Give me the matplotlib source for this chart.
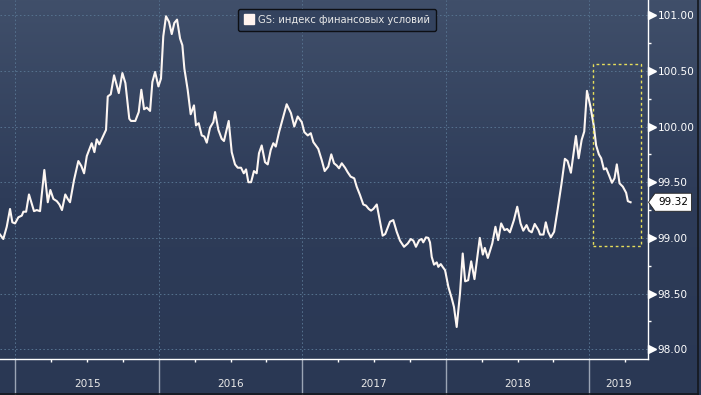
import numpy as np
import matplotlib
matplotlib.use('Agg')
import matplotlib.pyplot as plt
import matplotlib.transforms as mtransforms
from matplotlib.patches import Rectangle, Polygon
from matplotlib.lines import Line2D
from matplotlib.colors import LinearSegmentedColormap
from matplotlib.ticker import FixedLocator, NullFormatter

# ---------------- data (decimal years, index level) ----------------
dates_yr = [
    2014.893, 2014.916, 2014.940, 2014.963, 2014.979, 2014.998, 2015.021, 2015.045, 2015.056, 2015.075,
    2015.095, 2015.114, 2015.130, 2015.149, 2015.172, 2015.202, 2015.226, 2015.244, 2015.265, 2015.289,
    2015.307, 2015.325, 2015.348, 2015.365, 2015.381, 2015.409, 2015.439, 2015.460, 2015.479, 2015.498,
    2015.532, 2015.551, 2015.567, 2015.585, 2015.632, 2015.644, 2015.665, 2015.688, 2015.721, 2015.746,
    2015.767, 2015.794, 2015.806, 2015.836, 2015.860, 2015.878, 2015.897, 2015.916, 2015.939, 2015.955,
    2015.974, 2015.997, 2016.015, 2016.031, 2016.050, 2016.071, 2016.090, 2016.108, 2016.127, 2016.148,
    2016.164, 2016.178, 2016.201, 2016.222, 2016.245, 2016.259, 2016.278, 2016.299, 2016.317, 2016.334,
    2016.357, 2016.380, 2016.392, 2016.415, 2016.438, 2016.454, 2016.487, 2016.508, 2016.531, 2016.550,
    2016.573, 2016.592, 2016.608, 2016.624, 2016.643, 2016.663, 2016.682, 2016.698, 2016.717, 2016.740,
    2016.759, 2016.780, 2016.798, 2016.815, 2016.838, 2016.868, 2016.891, 2016.921, 2016.944, 2016.968,
    2016.996, 2017.014, 2017.038, 2017.059, 2017.077, 2017.111, 2017.135, 2017.156, 2017.181, 2017.202,
    2017.221, 2017.240, 2017.256, 2017.275, 2017.298, 2017.316, 2017.337, 2017.362, 2017.379, 2017.402,
    2017.425, 2017.444, 2017.463, 2017.479, 2017.495, 2017.519, 2017.542, 2017.560, 2017.578, 2017.611,
    2017.634, 2017.658, 2017.681, 2017.709, 2017.735, 2017.756, 2017.774, 2017.792, 2017.815, 2017.832,
    2017.843, 2017.862, 2017.878, 2017.890, 2017.902, 2017.918, 2017.937, 2017.948, 2017.965, 2017.978,
    2017.995, 2018.018, 2018.041, 2018.057, 2018.076, 2018.099, 2018.118, 2018.135, 2018.156, 2018.177,
    2018.200, 2018.237, 2018.258, 2018.272, 2018.293, 2018.324, 2018.346, 2018.365, 2018.386, 2018.409,
    2018.428, 2018.447, 2018.475, 2018.498, 2018.521, 2018.540, 2018.563, 2018.580, 2018.599, 2018.620,
    2018.646, 2018.657, 2018.681, 2018.697, 2018.713, 2018.732, 2018.755, 2018.779, 2018.807, 2018.830,
    2018.849, 2018.872, 2018.907, 2018.926, 2018.947, 2018.965, 2018.984, 2019.008, 2019.031, 2019.048,
    2019.067, 2019.083, 2019.102, 2019.118, 2019.137, 2019.158, 2019.176, 2019.192, 2019.211, 2019.234,
    2019.257, 2019.269, 2019.288,
]
values = [
    99.03, 98.99, 99.10, 99.26, 99.14, 99.13, 99.185, 99.20, 99.235, 99.235,
    99.39, 99.31, 99.24, 99.25, 99.24, 99.61, 99.32, 99.43, 99.35, 99.33,
    99.30, 99.25, 99.39, 99.35, 99.32, 99.52, 99.69, 99.645, 99.58, 99.735,
    99.85, 99.77, 99.885, 99.84, 99.97, 100.27, 100.29, 100.46, 100.30, 100.48,
    100.39, 100.07, 100.05, 100.05, 100.13, 100.33, 100.155, 100.17, 100.14, 100.40,
    100.49, 100.36, 100.43, 100.81, 100.99, 100.94, 100.83, 100.93, 100.96, 100.79,
    100.73, 100.52, 100.33, 100.11, 100.19, 100.01, 100.03, 99.92, 99.91, 99.855,
    99.99, 100.04, 100.13, 99.97, 99.89, 99.87, 100.05, 99.77, 99.66, 99.63,
    99.63, 99.58, 99.615, 99.50, 99.50, 99.60, 99.58, 99.76, 99.83, 99.68,
    99.66, 99.79, 99.85, 99.82, 99.95, 100.09, 100.20, 100.12, 100.00, 100.09,
    100.04, 99.95, 99.92, 99.94, 99.86, 99.80, 99.70, 99.60, 99.64, 99.75,
    99.67, 99.65, 99.625, 99.67, 99.63, 99.59, 99.55, 99.535, 99.46, 99.385,
    99.30, 99.29, 99.26, 99.245, 99.26, 99.30, 99.145, 99.02, 99.035, 99.145,
    99.16, 99.055, 98.975, 98.92, 98.95, 98.99, 98.975, 98.92, 98.98, 98.99,
    98.96, 99.005, 99.00, 98.96, 98.83, 98.76, 98.78, 98.74, 98.765, 98.74,
    98.71, 98.56, 98.46, 98.38, 98.20, 98.50, 98.86, 98.61, 98.62, 98.79,
    98.63, 99.00, 98.85, 98.91, 98.82, 98.95, 99.10, 98.98, 99.13, 99.07,
    99.08, 99.05, 99.16, 99.28, 99.13, 99.065, 99.115, 99.065, 99.05, 99.125,
    99.07, 99.03, 99.03, 99.14, 99.055, 99.005, 99.055, 99.25, 99.49, 99.71,
    99.69, 99.585, 99.915, 99.715, 99.88, 99.955, 100.32, 100.18, 100.01, 99.83,
    99.75, 99.715, 99.615, 99.625, 99.565, 99.495, 99.535, 99.66, 99.49, 99.46,
    99.405, 99.33, 99.32,
]
year_starts = [2015, 2016, 2017, 2018, 2019]
year_labels = ['2015', '2016', '2017', '2018', '2019']
y_ticks = [98.0, 98.5, 99.0, 99.5, 100.0, 100.5, 101.0]
legend_label = 'GS: индекс финансовых условий'
last_value = values[-1]
highlight_x = (2019.024, 2019.362)
highlight_y = (98.93, 100.56)
x_limits = (2014.893, 2019.406)
y_limits = (97.91, 101.136)

# ---------------- figure ----------------
fig = plt.figure(figsize=(7.01, 3.95), dpi=100)
bg = fig.add_axes([0, 0, 1, 1], zorder=-10)
bg.set_axis_off()
cmap = LinearSegmentedColormap.from_list('bg', ['#2a3854', '#2e3c59', '#404f6a'])
bg.imshow(np.linspace(0, 1, 256).reshape(-1, 1), extent=[0, 1, 0, 1],
          aspect='auto', cmap=cmap, origin='lower')
bg.set_xlim(0, 1); bg.set_ylim(0, 1)

ax = fig.add_axes([0, 0.0904, 0.9237, 0.9096])
ax.patch.set_alpha(0)
ax.set_xlim(*x_limits)
ax.set_ylim(*y_limits)

grid_kw = dict(color='#56728f', lw=0.7, ls=(0, (1.6, 2.4)), zorder=1)
for y in y_ticks:
    ax.axhline(y, **grid_kw)
for x in year_starts:
    ax.axvline(x, **grid_kw)

ax.plot(dates_yr, values, color='#fdf6f2', lw=1.5, zorder=3, solid_joinstyle='round')

ax.add_patch(Rectangle((highlight_x[0], highlight_y[0]),
                       highlight_x[1] - highlight_x[0], highlight_y[1] - highlight_y[0],
                       fill=False, edgecolor='#e6de5a', lw=1.0, ls=(0, (2, 2)), zorder=4))

# spines
for s in ['left', 'top']:
    ax.spines[s].set_visible(False)
for s in ['right', 'bottom']:
    ax.spines[s].set_color('white')
    ax.spines[s].set_linewidth(1.0)

# y axis on right
ax.yaxis.tick_right()
ax.yaxis.set_major_locator(FixedLocator(y_ticks))
ax.set_yticklabels([f'{t:.2f}' for t in y_ticks])
minor_y = [t + 0.25 for t in y_ticks[:-1]]
ax.yaxis.set_minor_locator(FixedLocator(minor_y))
ax.tick_params(axis='y', which='major', length=0, pad=7.3, labelsize=7.6, labelcolor='white')
ax.tick_params(axis='y', which='minor', length=2.3, width=1, color='white', direction='out')

# triangle markers at major y ticks
tri_trans = ax.get_yaxis_transform() + mtransforms.ScaledTranslation(0.045, 0, fig.dpi_scale_trans)
ax.plot([1.0] * len(y_ticks), y_ticks, ls='none', marker='>', markersize=5.5,
        color='white', transform=tri_trans, clip_on=False, zorder=5)

# x axis
ax.xaxis.set_major_locator(FixedLocator(year_starts))
ax.xaxis.set_major_formatter(NullFormatter())
minor_x = [y + q for y in [2014] + year_starts for q in (0.25, 0.5, 0.75)
           if x_limits[0] < y + q < x_limits[1]]
ax.xaxis.set_minor_locator(FixedLocator(minor_x))
ax.tick_params(axis='x', which='major', length=26, width=1, color='#9ba5b5', direction='out')
ax.tick_params(axis='x', which='minor', length=2.3, width=1, color='white', direction='out')

xt = ax.get_xaxis_transform()
for ys, lab in zip(year_starts, year_labels):
    lo = max(ys, x_limits[0]); hi = min(ys + 1, x_limits[1])
    ax.text((lo + hi) / 2, -0.0687, lab, transform=xt, ha='center', va='center',
            color='#e8e8e8', fontsize=7.6)

# legend
handle = Line2D([], [], ls='none', marker='s', markersize=7,
                markerfacecolor='#fff3ef', markeredgecolor='#fff3ef')
leg = ax.legend([handle], [legend_label], loc='upper center', bbox_to_anchor=(0.521, 0.99),
                frameon=True, fancybox=True, facecolor='#33425e', edgecolor='#0d0f14',
                fontsize=7.2, labelcolor='#e8e8e8', handletextpad=0.5, borderpad=0.6,
                handlelength=0.9, framealpha=1)
leg.get_frame().set_linewidth(1.0)
leg.set_zorder(6)

# last value tag
tag_trans = fig.dpi_scale_trans + mtransforms.ScaledTranslation(1.0, last_value, ax.get_yaxis_transform())
tag = Polygon([(0.01, 0), (0.075, 0.09), (0.44, 0.09), (0.44, -0.09), (0.075, -0.09)],
              closed=True, facecolor='white', edgecolor='#222222', lw=0.6,
              transform=tag_trans, clip_on=False, zorder=7)
ax.add_artist(tag)
ax.text(0.255, 0, f'{last_value:.2f}', transform=tag_trans, ha='center', va='center',
        color='black', fontsize=7.6, clip_on=False, zorder=8)

# thin dark figure border (right / bottom)
fig.add_artist(Line2D([698 / 701, 698 / 701], [0, 1], transform=fig.transFigure, color='#14171d', lw=1.2))
fig.add_artist(Line2D([0, 698 / 701], [1.5 / 395, 1.5 / 395], transform=fig.transFigure, color='#14171d', lw=1.2))

fig.savefig('out.png', dpi=100)
